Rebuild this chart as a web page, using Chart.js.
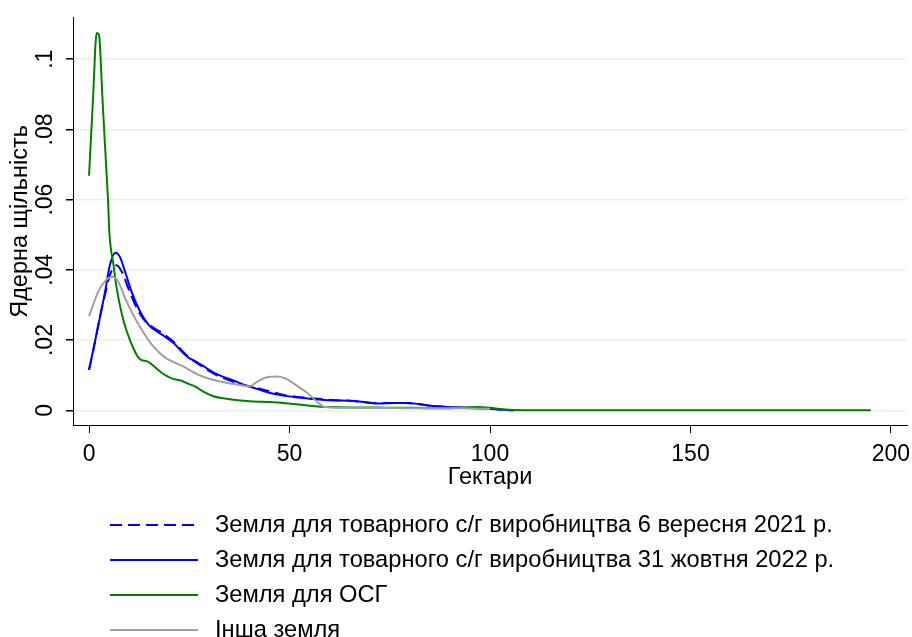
<!DOCTYPE html>
<html>
<head>
<meta charset="utf-8">
<script src="https://cdn.jsdelivr.net/npm/chart.js@4.4.1/dist/chart.umd.min.js"></script>
<style>
  html, body { margin: 0; padding: 0; background: #fff; }
  canvas { display: block; }
</style>
</head>
<body>
<canvas id="kdChart" width="912" height="637"></canvas>
<script>
// осі
const xTicks = [0, 50, 100, 150, 200];
const yTicks = [0, 0.02, 0.04, 0.06, 0.08, 0.1];

const seriesNames = [
  'Земля для товарного с/г виробництва 6 вересня 2021 р.',
  'Земля для товарного с/г виробництва 31 жовтня 2022 р.',
  'Земля для ОСГ',
  'Інша земля'
];

// ядерні щільності (гектари -> щільність)
const land2021X = [0, 1.5, 2.7, 4, 5.2, 6.2, 6.9, 8.2, 9.8, 11.9, 14, 16.5, 18.5, 21.4, 23, 25.2, 27.5, 29.8, 32, 34.3, 38.5, 41, 44.7, 48.9, 52, 55, 58, 61, 65, 68, 72, 76, 79, 82, 86, 92, 99, 104, 106];
const land2021Y = [.0115, .0195, .0265, .033, .0385, .0408, .0413, .0394, .0347, .0291, .0254, .0232, .0218, .0192, .0172, .0148, .013, .0113, .0099, .0088, .0072, .0066, .0055, .0043, .0038, .0035, .0032, .0029, .0027, .0024, .0020, .0021, .0021, .0018, .0012, .0008, .0005, .0001, 0];

const land2022X = [0, 1.5, 4, 5.2, 6.6, 7.7, 9, 10.6, 12.7, 14.8, 16.5, 18.1, 21.4, 22.7, 24.8, 26.8, 29, 31, 33.5, 36, 38.5, 41, 43.5, 46, 49, 52, 55, 58, 61, 65, 68, 72, 76, 79, 82, 86, 92, 99, 104, 106];
const land2022Y = [.0115, .0197, .0338, .0414, .0449, .0437, .0394, .0338, .0282, .0244, .0228, .0216, .0188, .0172, .015, .0138, .0122, .0108, .0095, .0085, .0073, .0064, .0055, .0047, .0041, .0036, .0033, .003, .0028, .0027, .0024, .0019, .0021, .0021, .0018, .0012, .0008, .0005, .0001, 0];

const osgX = [0, 1, 1.9, 2.5, 3.3, 4, 4.7, 5.1, 6.1, 6.9, 8.2, 9.4, 11, 12.2, 13.1, 14.4, 15.6, 18.1, 20.6, 23.1, 24.8, 26.4, 28.5, 31, 33.5, 36, 40, 43.4, 47, 50, 53, 55, 57, 60, 65, 70, 75, 80, 85, 90, 94, 97, 100, 103, 106, 120, 150, 195];
const osgY = [.0668, .089, .1075, .1068, .090, .075, .0606, .0502, .0414, .0347, .0273, .0225, .0178, .0152, .0143, .0140, .0131, .0107, .0091, .0084, .0075, .0068, .0053, .0040, .0034, .0030, .0026, .0024, .0022, .0019, .0016, .0013, .0011, .0009, .0008, .0008, .0007, .0007, .0006, .0006, .0008, .0009, .0007, .0003, .0001, 0, 0, 0];

const otherX = [0, 2.3, 4, 5.8, 7.3, 9, 11, 13.1, 15.6, 19, 23.1, 27.7, 32.7, 37.7, 40, 41.8, 44.3, 46.8, 49.3, 51.8, 54.7, 56.5, 58.8, 62, 70, 80, 90, 95, 100];
const otherY = [.0268, .0338, .0368, .038, .0366, .0319, .0272, .023, .0188, .015, .0127, .0099, .0082, .0072, .0068, .008, .0094, .0096, .0089, .007, .0047, .0028, .0009, .0007, .0007, .0006, .0006, .0005, .0004];

const toPoints = (xs, ys) => xs.map((x, i) => ({ x: x, y: ys[i] }));

Chart.defaults.font.family = '"Liberation Sans", Arial, sans-serif';
Chart.defaults.color = '#000';

const lineStyle = {
  pointRadius: 0,
  borderWidth: 2,
  fill: false,
  cubicInterpolationMode: 'monotone'
};

// легенда під графіком, як у Stata (по одному рядку на серію)
const bottomLegend = {
  id: 'bottomLegend',
  afterDraw(chart) {
    const ctx = chart.ctx;
    ctx.save();
    chart.data.datasets.forEach((ds, i) => {
      const y = 525 + i * 35;
      ctx.strokeStyle = ds.borderColor;
      ctx.lineWidth = ds.borderWidth;
      ctx.setLineDash(ds.borderDash || []);
      ctx.beginPath();
      ctx.moveTo(110, y);
      ctx.lineTo(198, y);
      ctx.stroke();
      ctx.setLineDash([]);
      ctx.fillStyle = '#000';
      ctx.font = '23.7px "Liberation Sans", Arial, sans-serif';
      ctx.textBaseline = 'middle';
      ctx.fillText(ds.label, 215, y);
    });
    ctx.restore();
  }
};

const ctx = document.getElementById('kdChart').getContext('2d');
new Chart(ctx, {
  type: 'line',
  data: {
    datasets: [
      { ...lineStyle, label: seriesNames[0], data: toPoints(land2021X, land2021Y), borderColor: '#0000ff', borderDash: [12, 6], order: 3 },
      { ...lineStyle, label: seriesNames[1], data: toPoints(land2022X, land2022Y), borderColor: '#0000ff', order: 2 },
      { ...lineStyle, label: seriesNames[2], data: toPoints(osgX, osgY), borderColor: '#008000', order: 1 },
      { ...lineStyle, label: seriesNames[3], data: toPoints(otherX, otherY), borderColor: '#a0a0a0', order: 0 }
    ]
  },
  options: {
    responsive: false,
    animation: false,
    layout: { padding: { left: 0, top: 13, right: 0, bottom: 142 } },
    scales: {
      x: {
        type: 'linear',
        min: -4,
        max: 204,
        afterBuildTicks: s => { s.ticks = xTicks.map(v => ({ value: v })); },
        afterFit: s => { s.height = 70; s.paddingRight = 5; },
        border: { display: true, color: '#000', width: 1 },
        grid: { drawOnChartArea: false, drawTicks: true, tickLength: 8, tickColor: '#000' },
        ticks: { font: { size: 23 }, padding: 8, maxRotation: 0 },
        title: { display: true, text: 'Гектари', font: { size: 23.5 }, padding: { top: 0, bottom: 3 } }
      },
      y: {
        type: 'linear',
        min: -0.0042,
        max: 0.1118,
        afterBuildTicks: s => { s.ticks = yTicks.map(v => ({ value: v })); },
        afterFit: s => { s.width = 73; },
        border: { display: true, color: '#000', width: 1 },
        grid: { color: '#e8f0f3', lineWidth: 1.5, drawTicks: true, tickLength: 7, tickColor: '#000' },
        ticks: {
          font: { size: 23 },
          minRotation: 90,
          maxRotation: 90,
          crossAlign: 'center',
          padding: 4,
          callback: v => v === 0 ? '0' : String(+v.toFixed(2)).replace(/^0\./, '.')
        },
        title: { display: true, text: 'Ядерна щільність', font: { size: 23.5 }, padding: { top: 6, bottom: 0 } }
      }
    },
    plugins: {
      legend: { display: false },
      tooltip: { enabled: false }
    }
  },
  plugins: [bottomLegend]
});
</script>
</body>
</html>
